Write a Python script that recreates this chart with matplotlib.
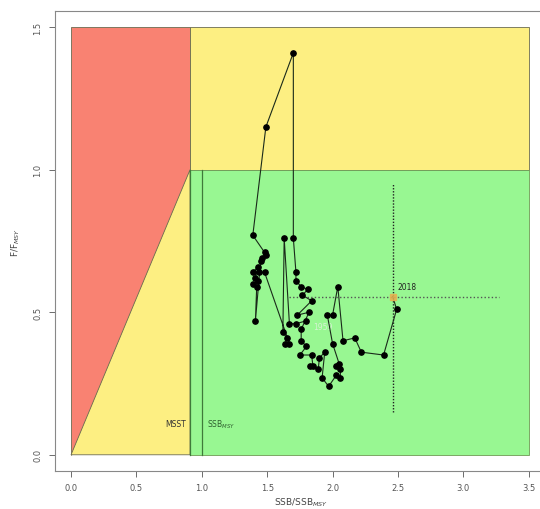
import numpy as np
import matplotlib
matplotlib.use("Agg")
import matplotlib.pyplot as plt
from matplotlib.patches import Polygon

plt.rcParams['font.family'] = ['DejaVu Sans']

# reference points
msst = 0.91
ssb_msy = 1.0
x_max = 3.5
y_max = 1.5

# trajectory SSB/SSBmsy and F/Fmsy
ssb_ratio = [1.80, 1.72, 1.67, 1.63, 1.62, 1.65, 1.64, 1.67, 1.48, 1.44,
             1.39, 1.43, 1.41, 1.43, 1.39, 1.42, 1.41, 1.45, 1.46, 1.49,
             1.48, 1.39, 1.49, 1.70, 1.70, 1.72, 1.72, 1.76, 1.81, 1.77,
             1.84, 1.73, 1.82, 1.76, 1.76, 1.80, 1.75, 1.84, 1.85, 1.83,
             1.89, 1.90, 1.94, 1.92, 1.97, 2.03, 2.06, 2.06, 2.03, 2.05,
             2.00, 1.96, 2.00, 2.04, 2.08, 2.17, 2.22, 2.39, 2.49, 2.46]
f_ratio = [0.47, 0.46, 0.46, 0.76, 0.43, 0.41, 0.39, 0.39, 0.64, 0.64,
           0.64, 0.66, 0.62, 0.61, 0.60, 0.59, 0.47, 0.68, 0.69, 0.70,
           0.71, 0.77, 1.15, 1.41, 0.76, 0.64, 0.61, 0.59, 0.58, 0.56,
           0.54, 0.49, 0.50, 0.44, 0.40, 0.38, 0.35, 0.35, 0.31, 0.31,
           0.30, 0.34, 0.36, 0.27, 0.24, 0.28, 0.27, 0.30, 0.31, 0.32,
           0.39, 0.49, 0.49, 0.59, 0.40, 0.41, 0.36, 0.35, 0.51, 0.555]
years = list(range(1959, 2019))

# uncertainty in last year
ssb_ci = [1.67, 3.27]
f_ci = [0.15, 0.955]

fig = plt.figure(figsize=(5.4, 5.1), dpi=100)
ax = fig.add_axes([0.102, 0.075, 0.911, 0.901])

edge = '#6b6b50'
# red zone
ax.add_patch(Polygon([(0, 0), (0, y_max), (msst, y_max), (msst, 1.0)],
                     closed=True, fc='#f98272', ec=edge, lw=0.6))
# yellow zones
ax.add_patch(Polygon([(0, 0), (msst, 1.0), (msst, 0)],
                     closed=True, fc='#fdef82', ec=edge, lw=0.6))
ax.add_patch(Polygon([(msst, 1.0), (msst, y_max), (x_max, y_max), (x_max, 1.0)],
                     closed=True, fc='#fdef82', ec=edge, lw=0.6))
# green zone
ax.add_patch(Polygon([(msst, 0), (msst, 1.0), (x_max, 1.0), (x_max, 0)],
                     closed=True, fc='#98f792', ec='#6f9a55', lw=0.6))

ax.plot([ssb_msy, ssb_msy], [0, 1.0], color='#3f7a3a', lw=0.9)
ax.plot([msst, msst], [0, 1.0], color='#3f7a3a', lw=0.9)
ax.text(msst - 0.03, 0.11, 'MSST', fontsize=5.5, ha='right', va='center', color='#333333')
ax.text(ssb_msy + 0.04, 0.11, 'SSB$_{MSY}$', fontsize=5.5, ha='left', va='center', color='#2f5f2f')

# confidence lines
ax.plot([ssb_ratio[-1], ssb_ratio[-1]], f_ci, color='#222222', lw=1.0, ls=(0, (1, 1.2)))
ax.plot(ssb_ci, [f_ratio[-1], f_ratio[-1]], color='#555555', lw=1.0, ls=(0, (1, 1.6)))

# trajectory
ax.plot(ssb_ratio, f_ratio, color='#1a2a1a', lw=0.8, zorder=4)
ax.plot(ssb_ratio[:-1], f_ratio[:-1], 'o', color='black', ms=3.8, zorder=5)
ax.plot(ssb_ratio[-1], f_ratio[-1], 's', color='#e8b050', ms=4, alpha=0.85, zorder=5)
ax.text(ssb_ratio[-1] + 0.04, f_ratio[-1] + 0.02, str(years[-1]), fontsize=5.5,
        color='#222222', ha='left', va='bottom')
ax.text(ssb_ratio[0] + 0.05, f_ratio[0] - 0.02, str(years[0]), fontsize=5.5,
        color='#d5f2d2', ha='left', va='center')

ax.set_xlim(-0.122, 3.64)
ax.set_ylim(-0.056, 1.556)
ax.set_xticks([0.0, 0.5, 1.0, 1.5, 2.0, 2.5, 3.0, 3.5])
ax.set_yticks([0.0, 0.5, 1.0, 1.5])
ax.set_xticklabels(['0.0', '0.5', '1.0', '1.5', '2.0', '2.5', '3.0', '3.5'])
ax.set_yticklabels(['0.0', '0.5', '1.0', '1.5'], rotation=90, va='center')
ax.tick_params(labelsize=6, colors='#555555', length=4, width=0.6, pad=5)
for s in ax.spines.values():
    s.set_color('#888888')
    s.set_linewidth(0.8)
ax.spines['right'].set_visible(False)
ax.set_xlabel('SSB/SSB$_{MSY}$', fontsize=6.5, color='#444444', labelpad=2)
ax.set_ylabel('F/F$_{MSY}$', fontsize=6.5, color='#444444', labelpad=8)

fig.savefig('out.png', dpi=100)
